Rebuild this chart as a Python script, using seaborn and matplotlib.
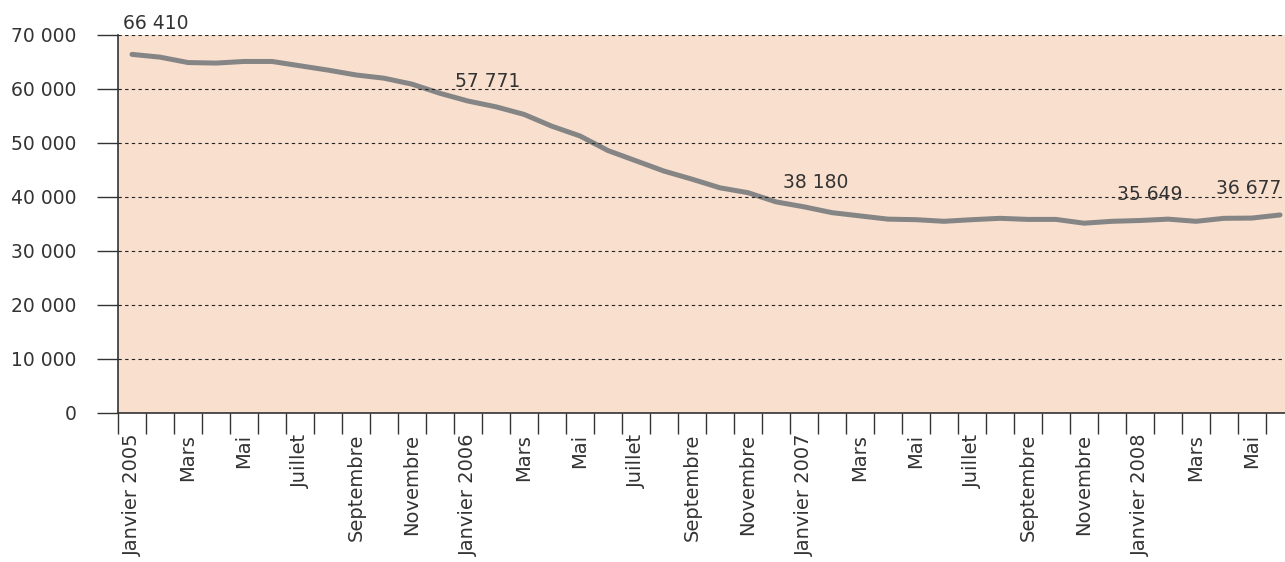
import pandas as pd
import seaborn as sns
import matplotlib.pyplot as plt

# Daten (monatlich, Januar 2005 bis Juni 2008)
mois_noms = ["Janvier", "Février", "Mars", "Avril", "Mai", "Juin", "Juillet",
             "Août", "Septembre", "Octobre", "Novembre", "Décembre"]
annees = [2005, 2006, 2007, 2008]
mois = [f"{m} {a}" for a in annees for m in mois_noms][:42]

valeurs = [66410, 65900, 64900, 64800, 65100, 65100, 64300, 63500, 62600, 62000, 60900, 59200,
           57771, 56700, 55300, 53100, 51300, 48600, 46700, 44800, 43300, 41700, 40800, 39100,
           38180, 37100, 36500, 35900, 35800, 35500, 35800, 36050, 35850, 35850, 35150, 35500,
           35649, 35900, 35500, 36050, 36100, 36677]

# Beschriftete Punkte
etiquettes_idx = [0, 12, 24, 36, 41]

# Achsenbeschriftung: jeder zweite Monat, Januar mit Jahr
tick_labels = []
for i, m in enumerate(mois):
    nom, an = m.split(" ")
    if i % 2 == 1:
        tick_labels.append("")
    elif nom == "Janvier":
        tick_labels.append(m)
    else:
        tick_labels.append(nom)

df = pd.DataFrame({"mois": mois, "valeur": valeurs})

sns.set_style("white")
plt.rcParams["font.family"] = ["DejaVu Sans"]

fig = plt.figure(figsize=(12.85, 5.62), dpi=100)
# Achse rechts absichtlich abgeschnitten wie im Original
ax = fig.add_axes([118 / 1285, 1 - 413 / 562, 1176 / 1285, 378 / 562])
ax.set_facecolor("#F8DFCE")

sns.lineplot(data=df, x="mois", y="valeur", ax=ax, color="#858585", linewidth=3.6, sort=False)

ax.set_xlim(-0.5, 41.5)
ax.set_ylim(0, 70000)
ax.set_yticks(range(0, 70001, 10000))
ax.set_yticklabels([f"{v:,}".replace(",", " ") for v in range(0, 70001, 10000)], fontsize=13.5, color="#333333")
ax.yaxis.grid(True, linestyle=(0, (3, 3)), color="#222222", linewidth=0.8, zorder=5)
ax.set_axisbelow(False)
ax.tick_params(axis="y", length=15, width=1, color="#333333", pad=15, direction="out", left=True)

# Ticks an Kategoriegrenzen, Beschriftungen in der Mitte
ax.set_xticks([i - 0.5 for i in range(len(mois) + 1)])
ax.set_xticklabels([])
ax.set_xticks(range(len(mois)), minor=True)
ax.set_xticklabels(tick_labels, minor=True, rotation=90, fontsize=14, color="#333333")
ax.tick_params(axis="x", which="major", length=15, width=1, color="#333333", direction="out", bottom=True)
ax.tick_params(axis="x", which="minor", length=0, pad=15)

for s in ["top", "right"]:
    ax.spines[s].set_visible(False)
ax.spines["left"].set_color("#333333")
ax.spines["bottom"].set_color("#333333")
ax.spines["left"].set_linewidth(1.2)
ax.spines["bottom"].set_linewidth(1.2)
ax.set_xlabel("")
ax.set_ylabel("")

decalages = {0: (-9, 21), 12: (-13, 10), 24: (-21, 15), 36: (-23, 16), 41: (-64, 17)}
for i in etiquettes_idx:
    txt = f"{valeurs[i]:,}".replace(",", " ")
    ax.annotate(txt, (i, valeurs[i]), xytext=decalages[i], textcoords="offset pixels",
                ha="left", va="bottom", fontsize=13.5, color="#333333", annotation_clip=False,
                zorder=1)

plt.savefig("out.png", dpi=100)
plt.close()
